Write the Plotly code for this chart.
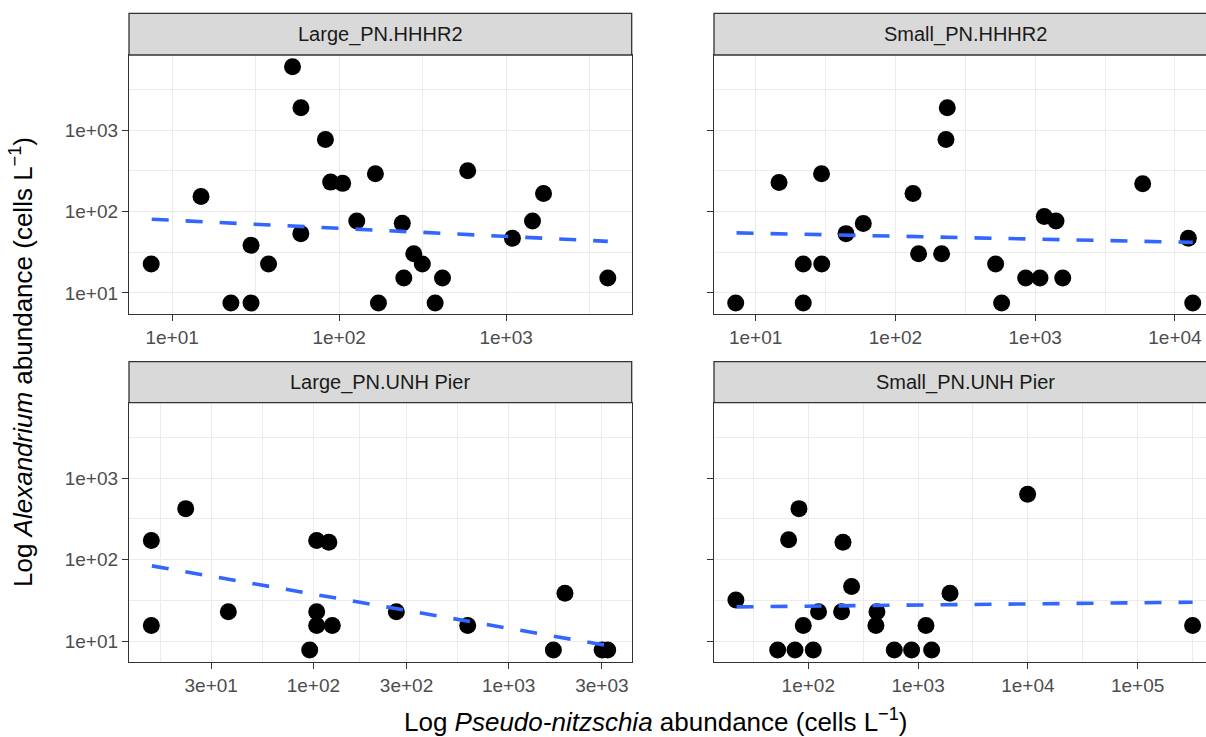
import plotly.graph_objects as go

# ---------------- data ----------------
panel_titles = ["Large_PN.HHHR2", "Small_PN.HHHR2", "Large_PN.UNH Pier", "Small_PN.UNH Pier"]

# Large_PN.HHHR2
p1_x = [7.5, 14.9, 22.5, 29.7, 29.7, 37.8, 52.6, 59.1, 59.0, 82.8, 89, 105, 127.6, 165, 172,
        239, 244, 280, 315, 376, 416, 589, 1091, 1439, 1675, 4064]
p1_y = [22.6, 153, 7.5, 7.5, 38.4, 22.6, 6050, 1888, 53.5, 767, 230, 222, 76.7, 292, 7.5,
        71.8, 15.2, 30.3, 22.6, 7.5, 15.2, 318, 46.9, 76.7, 167, 15.2]
t1_x = [7.55, 4064]
t1_y = [80.4, 43.0]

# Small_PN.HHHR2
p2_x = [7.2, 14.7, 21.9, 21.9, 29.6, 29.7, 44.3, 58.9, 133.6, 146.5, 214, 230, 235, 521, 575,
        855, 1082, 1161, 1409, 1574, 5877, 12470, 13400]
p2_y = [7.5, 228, 22.6, 7.5, 292, 22.6, 53.5, 71.1, 167, 30.3, 30.3, 767, 1888, 22.6, 7.5,
        15.2, 15.2, 86.7, 76.7, 15.2, 220, 46.9, 7.5]
t2_x = [7.3, 13400]
t2_y = [54.6, 41.8]

# Large_PN.UNH Pier
p3_x = [14.8, 14.8, 22.2, 36.7, 95.8, 104, 104, 104, 120, 125, 266, 617, 1694, 1942, 3011, 3214]
p3_y = [172, 15.5, 422, 22.9, 7.8, 172, 22.9, 15.5, 163, 15.5, 22.9, 15.5, 7.8, 38.6, 7.8, 7.8]
t3_x = [14.9, 3214]
t3_y = [83.8, 8.8]

# Small_PN.UNH Pier
p4_x = [21.9, 52.6, 66.2, 75.7, 82.2, 90, 111, 124, 201, 207, 248, 413, 422, 607, 873, 1180,
        1330, 1954, 9954, 317000]
p4_y = [32, 7.8, 175, 7.8, 422, 15.5, 7.8, 22.9, 22.9, 163, 46.9, 15.5, 22.9, 7.8, 7.8, 15.5,
        7.8, 38.6, 635, 15.5]
t4_x = [22.2, 317000]
t4_y = [26.3, 30.0]

# tick labels
y_ticks = [10, 100, 1000]
y_ticktext = ["1e+01", "1e+02", "1e+03"]
y_minor = [31.62, 316.2, 3162]

x1_ticks = [10, 100, 1000]
x1_text = ["1e+01", "1e+02", "1e+03"]
x1_minor = [31.62, 316.2, 3162]

x2_ticks = [10, 100, 1000, 10000]
x2_text = ["1e+01", "1e+02", "1e+03", "1e+04"]
x2_minor = [31.62, 316.2, 3162]

x3_ticks = [30, 100, 300, 1000, 3000]
x3_text = ["3e+01", "1e+02", "3e+02", "1e+03", "3e+03"]
x3_minor = [16.43, 54.77, 173.2, 547.7, 1732]

x4_ticks = [100, 1000, 10000, 100000]
x4_text = ["1e+02", "1e+03", "1e+04", "1e+05"]
x4_minor = [31.62, 316.2, 3162, 31620, 316200]

# ---------------- figure ----------------
W, H = 1206, 737
FONT = "Liberation Sans, Arial, sans-serif"
BORDER = "#333333"
GRID = "#EBEBEB"
BLUE = "#3366FF"

def px_x(v):
    return v / W

def px_y(v):
    return 1 - v / H

left_dom = [px_x(129), px_x(631.7)]
right_dom = [px_x(714), 1.0]
top_dom = [px_y(314), px_y(55)]
bot_dom = [px_y(662.3), px_y(402.7)]

fig = go.Figure()

panels = [
    (p1_x, p1_y, t1_x, t1_y, "x", "y"),
    (p2_x, p2_y, t2_x, t2_y, "x2", "y2"),
    (p3_x, p3_y, t3_x, t3_y, "x3", "y3"),
    (p4_x, p4_y, t4_x, t4_y, "x4", "y4"),
]
for px_, py_, tx, ty, xa, ya in panels:
    fig.add_trace(go.Scatter(x=px_, y=py_, mode="markers", xaxis=xa, yaxis=ya,
                             marker=dict(size=17, color="black", line=dict(width=0)),
                             showlegend=False, hoverinfo="x+y"))
    fig.add_trace(go.Scatter(x=tx, y=ty, mode="lines", xaxis=xa, yaxis=ya,
                             line=dict(color=BLUE, width=3.6, dash="17px,17px"),
                             showlegend=False, hoverinfo="skip"))

tickfont = dict(family=FONT, size=19, color="#4D4D4D")

def xaxis(domain, rng, tv, tt, minor, anchor):
    return dict(type="log", domain=domain, range=rng, anchor=anchor,
                tickmode="array", tickvals=tv, ticktext=tt,
                showgrid=True, gridcolor=GRID, gridwidth=1.4,
                minor=dict(tickmode="array", tickvals=minor, showgrid=True,
                           gridcolor=GRID, gridwidth=0.8, ticks=""),
                showline=True, linecolor=BORDER, linewidth=1.3, mirror=True,
                ticks="outside", ticklen=6, tickwidth=1.3, tickcolor=BORDER,
                tickfont=tickfont, zeroline=False, fixedrange=True)

def yaxis(domain, anchor, labels):
    return dict(type="log", domain=domain, range=[0.74, 3.925], anchor=anchor,
                tickmode="array", tickvals=y_ticks, ticktext=y_ticktext,
                showticklabels=labels,
                showgrid=True, gridcolor=GRID, gridwidth=1.4,
                minor=dict(tickmode="array", tickvals=y_minor, showgrid=True,
                           gridcolor=GRID, gridwidth=0.8, ticks=""),
                showline=True, linecolor=BORDER, linewidth=1.3, mirror=labels,
                ticks="outside", ticklen=6, tickwidth=1.3, tickcolor=BORDER,
                tickfont=tickfont, zeroline=False, fixedrange=True)

fig.update_layout(
    width=W, height=H,
    margin=dict(l=0, r=0, t=0, b=0),
    paper_bgcolor="white", plot_bgcolor="white",
    xaxis=xaxis(left_dom, [0.742, 3.752], x1_ticks, x1_text, x1_minor, "y"),
    xaxis2=xaxis(right_dom, [0.702, 4.222], x2_ticks, x2_text, x2_minor, "y2"),
    xaxis3=xaxis(left_dom, [1.056, 3.630], x3_ticks, x3_text, x3_minor, "y3"),
    xaxis4=xaxis(right_dom, [1.141, 5.623], x4_ticks, x4_text, x4_minor, "y4"),
    yaxis=yaxis(top_dom, "x", True),
    yaxis2=yaxis(top_dom, "x2", False),
    yaxis3=yaxis(bot_dom, "x3", True),
    yaxis4=yaxis(bot_dom, "x4", False),
)

# strips
strip_specs = [
    (px_x(129), px_x(631.7), px_y(55), px_y(13.3), px_x(380.4), px_y(34.2), panel_titles[0]),
    (px_x(714), px_x(1217), px_y(55), px_y(13.3), px_x(965.5), px_y(34.2), panel_titles[1]),
    (px_x(129), px_x(631.7), px_y(402.7), px_y(361.7), px_x(380.4), px_y(382.2), panel_titles[2]),
    (px_x(714), px_x(1217), px_y(402.7), px_y(361.7), px_x(965.5), px_y(382.2), panel_titles[3]),
]
for x0, x1, y0, y1, cx, cy, txt in strip_specs:
    fig.add_shape(type="rect", xref="paper", yref="paper", x0=x0, x1=x1, y0=y0, y1=y1,
                  fillcolor="#D9D9D9", line=dict(color=BORDER, width=1.3), layer="above")
    fig.add_annotation(xref="paper", yref="paper", x=cx, y=cy, text=txt, showarrow=False,
                       font=dict(family=FONT, size=20, color="#1A1A1A"),
                       xanchor="center", yanchor="middle")

# axis titles
fig.add_annotation(xref="paper", yref="paper", x=px_x(656), y=px_y(720),
                   text="Log <i>Pseudo-nitzschia</i> abundance (cells L<sup>−1</sup>)",
                   showarrow=False, font=dict(family=FONT, size=26, color="black"),
                   xanchor="center", yanchor="middle")
fig.add_annotation(xref="paper", yref="paper", x=px_x(21), y=px_y(362),
                   text="Log <i>Alexandrium</i> abundance (cells L<sup>−1</sup>)",
                   showarrow=False, textangle=-90,
                   font=dict(family=FONT, size=26, color="black"),
                   xanchor="center", yanchor="middle")

fig.write_html("out.html")
